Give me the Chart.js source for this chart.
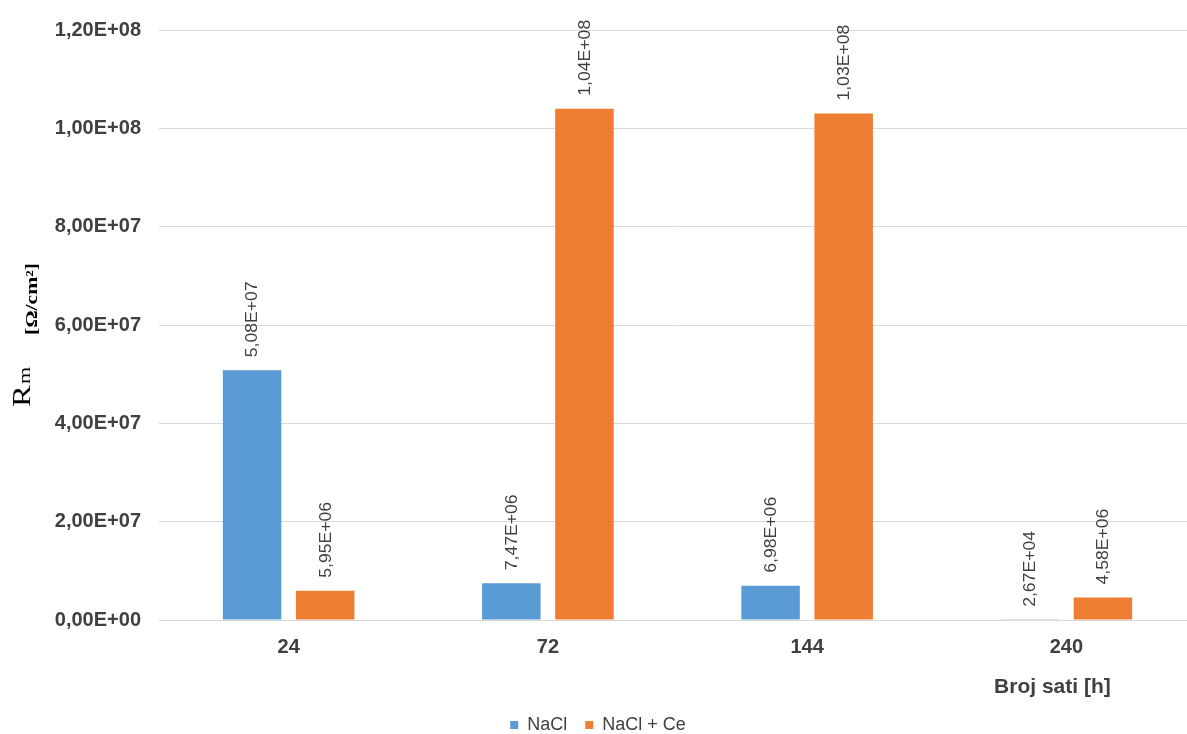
<!DOCTYPE html>
<html>
<head>
<meta charset="utf-8">
<script src="https://cdn.jsdelivr.net/npm/chart.js@4.4.1/dist/chart.umd.min.js"></script>
<style>
  html, body { margin: 0; padding: 0; overflow: hidden; background: #fff; width: 1187px; height: 734px; }
  canvas { display: block; }
</style>
</head>
<body>
<canvas id="c" width="1196" height="744"></canvas>
<script>
const categories = ['24', '72', '144', '240'];
const seriesNames = ['NaCl', 'NaCl + Ce'];
const naclValues = [5.08e7, 7.47e6, 6.98e6, 2.67e4];
const naclCeValues = [5.95e6, 1.04e8, 1.03e8, 4.58e6];
const yTickValues = [0, 2e7, 4e7, 6e7, 8e7, 1e8, 1.2e8];
const xAxisTitle = 'Broj sati [h]';
const yTitleMain = 'R';
const yTitleSub = 'm';
const yTitleUnit = '[Ω/cm²]';

const BLUE = '#5B9BD5';
const ORANGE = '#ED7D31';
const TEXT = '#404040';
const SANS = '"Liberation Sans", Arial, sans-serif';
const SERIF = '"Liberation Serif", "Times New Roman", serif';

function sci(v, d) {
  if (v === 0) return (0).toFixed(d).replace('.', ',') + 'E+00';
  let e = Math.floor(Math.log10(Math.abs(v)));
  let m = v / Math.pow(10, e);
  let s = m.toFixed(d);
  if (Math.abs(parseFloat(s)) >= 10) { e += 1; m = v / Math.pow(10, e); s = m.toFixed(d); }
  return s.replace('.', ',') + 'E' + (e < 0 ? '-' : '+') + String(Math.abs(e)).padStart(2, '0');
}

const dataLabelPlugin = {
  id: 'dataLabels',
  afterDatasetsDraw(chart) {
    const ctx = chart.ctx;
    chart.data.datasets.forEach((ds, di) => {
      const meta = chart.getDatasetMeta(di);
      meta.data.forEach((bar, i) => {
        const txt = sci(ds.data[i], 2);
        ctx.save();
        ctx.translate(bar.x + 1, bar.y - 13);
        ctx.rotate(-Math.PI / 2);
        ctx.scale(1.1, 1);
        ctx.font = '16px ' + SANS;
        ctx.fillStyle = TEXT;
        ctx.textAlign = 'left';
        ctx.textBaseline = 'middle';
        ctx.fillText(txt, 0, 0);
        ctx.restore();
      });
    });
  }
};

const titlesPlugin = {
  id: 'titles',
  afterDraw(chart) {
    const ctx = chart.ctx;
    const ca = chart.chartArea;
    const xs = chart.scales.x;
    const midY = (ca.top + ca.bottom) / 2;
    // x axis title
    ctx.save();
    ctx.font = 'bold 21px ' + SANS;
    ctx.fillStyle = TEXT;
    ctx.textAlign = 'center';
    ctx.textBaseline = 'middle';
    ctx.fillText(xAxisTitle, xs.getPixelForValue(3) - 14, ca.bottom + 67);
    ctx.restore();
    // y axis title: R_m
    ctx.save();
    ctx.translate(30, midY + 82);
    ctx.rotate(-Math.PI / 2);
    ctx.scale(1.3, 1);
    ctx.fillStyle = '#000';
    ctx.textBaseline = 'alphabetic';
    ctx.textAlign = 'left';
    ctx.font = '25px ' + SERIF;
    ctx.fillText(yTitleMain, 0, 0);
    const wR = ctx.measureText(yTitleMain).width;
    ctx.font = '17px ' + SERIF;
    ctx.fillText(yTitleSub, wR + 1, 0);
    ctx.restore();
    // unit
    ctx.save();
    ctx.translate(37, midY + 10);
    ctx.rotate(-Math.PI / 2);
    ctx.font = 'bold 16px ' + SERIF;
    const w = ctx.measureText(yTitleUnit).width;
    ctx.scale(72 / w, 1);
    ctx.fillStyle = '#000';
    ctx.textBaseline = 'alphabetic';
    ctx.textAlign = 'left';
    ctx.fillText(yTitleUnit, 0, 0);
    ctx.restore();
  }
};

new Chart(document.getElementById('c'), {
  type: 'bar',
  data: {
    labels: categories,
    datasets: [
      { label: seriesNames[0], data: naclValues, backgroundColor: BLUE, categoryPercentage: 0.564, barPercentage: 0.8 },
      { label: seriesNames[1], data: naclCeValues, backgroundColor: ORANGE, categoryPercentage: 0.564, barPercentage: 0.8 }
    ]
  },
  options: {
    responsive: false,
    animation: false,
    devicePixelRatio: 1,
    layout: { padding: { top: 26, left: 0, right: 0, bottom: 0 } },
    plugins: {
      legend: {
        position: 'bottom',
        labels: {
          font: { family: SANS, size: 18 },
          color: TEXT,
          boxWidth: 8,
          boxHeight: 8,
          padding: 18
        }
      },
      tooltip: { enabled: false }
    },
    scales: {
      x: {
        grid: { display: false, drawTicks: false },
        border: { display: true, color: '#d9d9d9', width: 1 },
        ticks: { font: { family: SANS, size: 20, weight: 'bold' }, color: TEXT, padding: 15 },
        afterFit(scale) { scale.height = 78; }
      },
      y: {
        min: 0,
        max: 1.2e8,
        afterBuildTicks(scale) { scale.ticks = yTickValues.map(v => ({ value: v })); },
        grid: { color: '#d9d9d9', lineWidth: 1, drawTicks: false },
        border: { display: false },
        ticks: {
          font: { family: SANS, size: 20, weight: 'bold' },
          color: TEXT,
          padding: 18,
          callback: (v) => sci(v, 2)
        },
        afterFit(scale) { scale.width = 159; }
      }
    }
  },
  plugins: [dataLabelPlugin, titlesPlugin]
});
</script>
</body>
</html>
